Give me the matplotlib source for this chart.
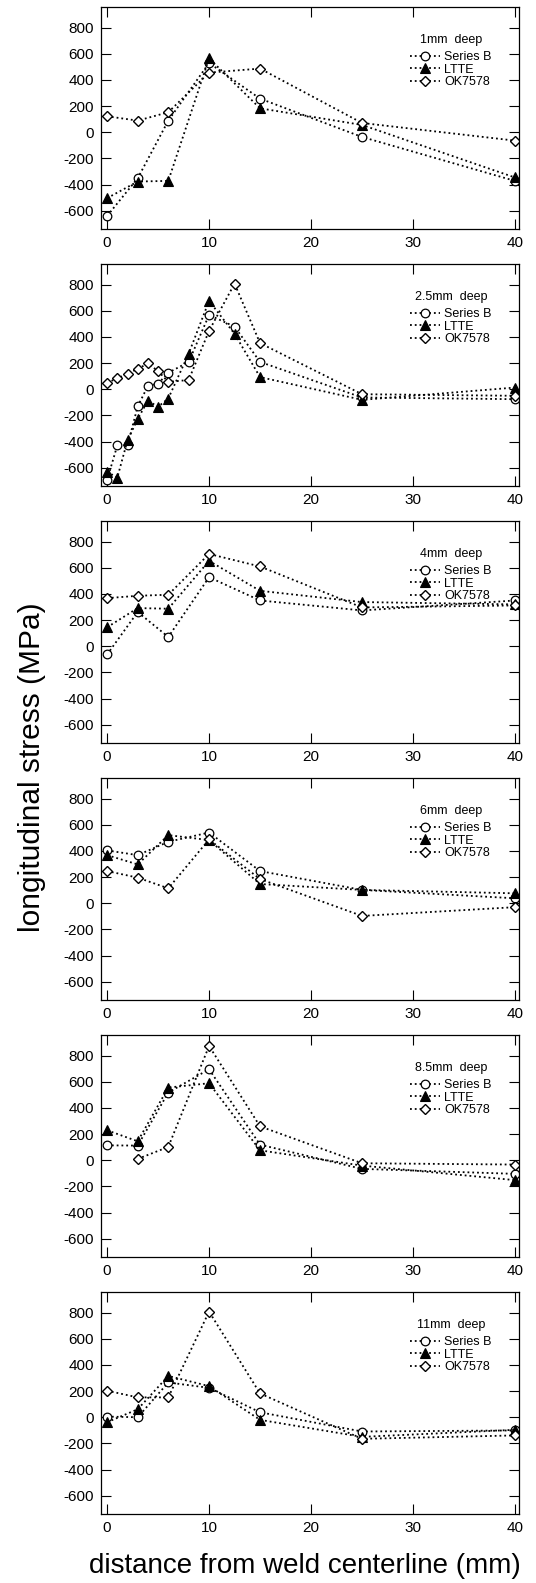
import numpy as np
import matplotlib
matplotlib.use("Agg")
import matplotlib.pyplot as plt

plt.rcParams['font.family'] = ['Liberation Sans', 'DejaVu Sans']
plt.rcParams['axes.unicode_minus'] = False

nan = np.nan
depth_labels = ["1mm  deep", "2.5mm  deep", "4mm  deep", "6mm  deep", "8.5mm  deep", "11mm  deep"]
series_names = ["Series B", "LTTE", "OK7578"]

x_std = [0, 3, 6, 10, 15, 25, 40]
x_fine = [0, 1, 2, 3, 4, 5, 6, 8, 10, 12.5, 15, 25, 40]

# panel 1 (1mm)
p1_seriesB = [-640, -352, 89, 530, 257, -36, -372]
p1_ltte = [-504, -377, -372, 565, 183, 56, -346]
p1_ok = [122, 89, 153, 456, 487, 71, -64]
# panel 2 (2.5mm)
p2_seriesB = [-694, -429, -429, -131, 25, 43, 126, 209, 568, 479, 209, -63, -76]
p2_ltte = [-631, -676, -391, -227, -88, -134, -71, 272, 676, 424, 93, -81, 13]
p2_ok = [50, 83, 119, 156, 197, 139, 56, 71, 447, 808, 353, -38, -50]
# panel 3 (4mm)
p3_seriesB = [-63, 262, 71, 528, 350, 274, 350]
p3_ltte = [145, 292, 287, 653, 424, 338, 320]
p3_ok = [368, 386, 394, 706, 610, 297, 312]
# panel 4 (6mm)
p4_seriesB = [404, 368, 470, 541, 246, 102, 38]
p4_ltte = [368, 297, 521, 483, 147, 102, 76]
p4_ok = [246, 196, 114, 488, 185, -97, -30]
# panel 5 (8.5mm)
p5_seriesB = [114, 112, 518, 696, 119, -66, -104]
p5_ltte = [229, 145, 556, 589, 76, -41, -152]
p5_ok = [nan, 10, 102, 874, 259, -23, -33]
# panel 6 (11mm)
p6_seriesB = [5, 0, 266, 225, 38, -109, -101]
p6_ltte = [-38, 61, 316, 238, -20, -150, -96]
p6_ok = [203, 152, 152, 808, 182, -165, -139]

panels = [
    (x_std, p1_seriesB, p1_ltte, p1_ok),
    (x_fine, p2_seriesB, p2_ltte, p2_ok),
    (x_std, p3_seriesB, p3_ltte, p3_ok),
    (x_std, p4_seriesB, p4_ltte, p4_ok),
    (x_std, p5_seriesB, p5_ltte, p5_ok),
    (x_std, p6_seriesB, p6_ltte, p6_ok),
]

x_ticks = [0, 10, 20, 30, 40]
y_ticks = [-600, -400, -200, 0, 200, 400, 600, 800]

W, H = 536, 1583
fig = plt.figure(figsize=(W / 100, H / 100), dpi=100)

styles = [
    dict(marker='o', markersize=6.2, markerfacecolor='white', markeredgecolor='black', markeredgewidth=0.9),
    dict(marker='^', markersize=6.5, markerfacecolor='black', markeredgecolor='black', markeredgewidth=0.8),
    dict(marker='D', markersize=4.8, markerfacecolor='white', markeredgecolor='black', markeredgewidth=1.0),
]

left_px, right_px = 101, 519
for i, (xs, sb, lt, ok) in enumerate(panels):
    top_px = 7 + 257 * i
    bot_px = top_px + 222
    ax = fig.add_axes([left_px / W, 1 - bot_px / H, (right_px - left_px) / W, (bot_px - top_px) / H])
    for name, vals, st in zip(series_names, [sb, lt, ok], styles):
        ax.plot(xs, vals, color='black', linestyle=':', linewidth=1.3, label=name, **st)
    ax.set_xlim(-0.6, 40.4)
    ax.set_ylim(-740, 958)
    ax.set_xticks(x_ticks)
    ax.set_yticks(y_ticks)
    ax.tick_params(direction='in', length=7, width=0.8, top=True, right=True,
                   labelsize=11, colors='black')
    ax.tick_params(axis='x', pad=5)
    ax.tick_params(axis='y', pad=5)
    for s in ax.spines.values():
        s.set_linewidth(0.9)
    leg = ax.legend(title=depth_labels[i], loc='upper right', bbox_to_anchor=(0.935, 0.88),
                    frameon=False, fontsize=9, title_fontsize=9, borderpad=0,
                    borderaxespad=0, labelspacing=0.05, handlelength=2.4, handletextpad=0.35,
                    numpoints=1)
    leg._legend_box.sep = 4

fig.text(32 / W, 1 - 767 / H, "longitudinal stress (MPa)", rotation=90,
         ha='center', va='center', fontsize=21.5)
fig.text(305 / W, 1 - 1573 / H, "distance from weld centerline (mm)",
         ha='center', va='baseline', fontsize=20)

fig.savefig("out.png", dpi=100)
